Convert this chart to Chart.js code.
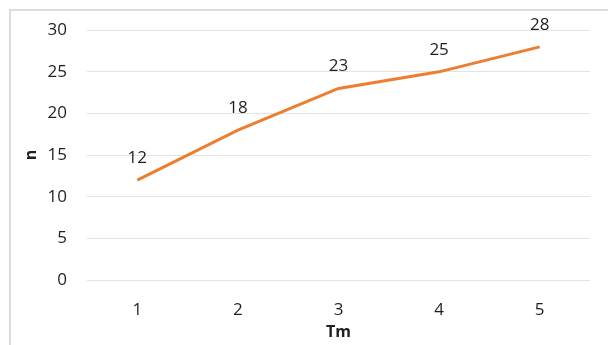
<!DOCTYPE html>
<html>
<head>
<meta charset="utf-8">
<script src="https://cdn.jsdelivr.net/npm/chart.js@4.4.0/dist/chart.umd.min.js"></script>
<style>
  html, body { margin: 0; padding: 0; background: #fff; }
  #wrap { width: 608px; height: 345px; }
</style>
</head>
<body>
<div id="wrap"><canvas id="myChart" width="608" height="345"></canvas></div>
<script>
const labels = ['1', '2', '3', '4', '5'];
const values = [12, 18, 23, 25, 28];
const yTicks = [0, 5, 10, 15, 20, 25, 30];

// light frame on left and top, like the pasted screenshot
const framePlugin = {
    id: 'frame',
    beforeDraw(chart) {
        const c = chart.ctx;
        c.save();
        c.strokeStyle = '#dcdcdc';
        c.lineWidth = 2;
        c.beginPath();
        c.moveTo(10, chart.height);
        c.lineTo(10, 10);
        c.lineTo(chart.width, 10);
        c.stroke();
        c.restore();
    }
};

// value labels above every point
const labelPlugin = {
    id: 'pointLabels',
    afterDatasetsDraw(chart) {
        const c = chart.ctx;
        const meta = chart.getDatasetMeta(0);
        c.save();
        c.font = '17px "Open Sans", sans-serif';
        c.fillStyle = '#1f1f1f';
        c.textAlign = 'center';
        c.textBaseline = 'middle';
        meta.data.forEach((pt, i) => {
            c.fillText(String(values[i]), pt.x, pt.y - 22);
        });
        c.restore();
    }
};

const ctx = document.getElementById('myChart').getContext('2d');
const myChart = new Chart(ctx, {
    type: 'line',
    data: {
        labels: labels,
        datasets: [{
            label: 'n',
            data: values,
            borderColor: '#ED7D31',
            backgroundColor: '#ED7D31',
            borderWidth: 3,
            pointRadius: 0,
            tension: 0
        }]
    },
    options: {
        responsive: false,
        animation: false,
        layout: {
            padding: { top: 29, right: 18, left: 0, bottom: 0 }
        },
        scales: {
            x: {
                offset: true,
                grid: { display: false, drawTicks: false },
                border: { display: false },
                ticks: {
                    padding: 20,
                    color: '#1f1f1f',
                    font: { family: '"Open Sans", sans-serif', size: 17 }
                },
                title: {
                    display: true,
                    text: 'Tm',
                    color: '#1f1f1f',
                    padding: { top: 0, bottom: 3 },
                    font: { family: '"Open Sans", sans-serif', size: 16, weight: 'bold' }
                },
                afterFit(scale) { scale.height = 65; }
            },
            y: {
                min: 0,
                max: 30,
                afterBuildTicks(scale) {
                    scale.ticks = yTicks.map(v => ({ value: v }));
                },
                grid: { color: '#e3e3e3', lineWidth: 1, drawTicks: false },
                border: { display: false },
                ticks: {
                    padding: 20,
                    color: '#1f1f1f',
                    font: { family: '"Open Sans", sans-serif', size: 17 }
                },
                title: {
                    display: true,
                    text: 'n',
                    color: '#1f1f1f',
                    padding: { top: 22, bottom: 0 },
                    font: { family: '"Open Sans", sans-serif', size: 16, weight: 'bold' }
                },
                afterFit(scale) { scale.width = 87; }
            }
        },
        plugins: {
            legend: { display: false },
            tooltip: { enabled: false }
        }
    },
    plugins: [framePlugin, labelPlugin]
});
</script>
</body>
</html>
